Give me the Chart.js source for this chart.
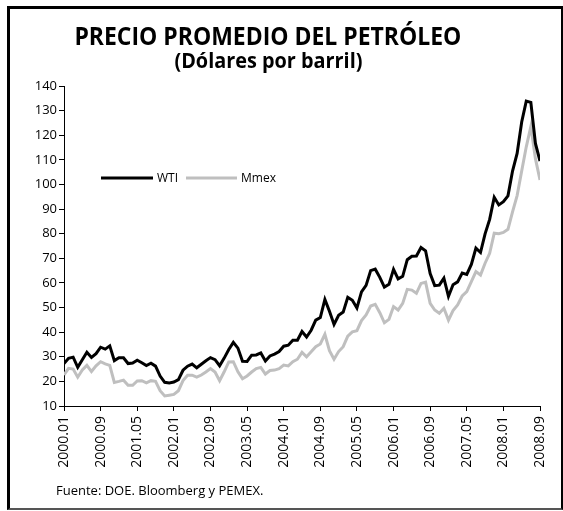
<!DOCTYPE html>
<html><head><meta charset="utf-8">
<script src="https://cdn.jsdelivr.net/npm/chart.js@4.4.1/dist/chart.umd.min.js"></script>
<style>
html,body{margin:0;padding:0;background:#fff;}
#wrap{position:relative;width:563px;height:511px;overflow:hidden;}
#frame{position:absolute;left:7px;top:6px;width:556px;height:504px;box-sizing:border-box;border-top:3px solid #000;border-left:3px solid #000;border-right:2px solid #000;border-bottom:2px solid #555;}
.ttl{position:absolute;left:0;width:536px;text-align:center;font-family:'Open Sans',sans-serif;font-weight:700;color:#000;white-space:nowrap;}
.ttl span{display:inline-block;transform-origin:50% 50%;}
#t1{top:23px;font-size:25.5px;line-height:25.5px;}
#t2{top:50px;font-size:21px;line-height:21px;}
#src{position:absolute;left:56px;top:484px;font:13px 'Open Sans',sans-serif;line-height:13px;color:#000;}
canvas{position:absolute;left:0;top:0;}
</style></head>
<body><div id="wrap">
<div id="frame"></div>
<canvas id="c" width="563" height="511"></canvas>
<div class="ttl" id="t1"><span>PRECIO PROMEDIO DEL PETRÓLEO</span></div>
<div class="ttl" id="t2"><span>(Dólares por barril)</span></div>
<div id="src"><span>Fuente: DOE. Bloomberg y PEMEX.</span></div>
</div>
<script>
const categories = [
'2000.01','2000.02','2000.03','2000.04','2000.05','2000.06','2000.07','2000.08','2000.09','2000.10','2000.11','2000.12',
'2001.01','2001.02','2001.03','2001.04','2001.05','2001.06','2001.07','2001.08','2001.09','2001.10','2001.11','2001.12',
'2002.01','2002.02','2002.03','2002.04','2002.05','2002.06','2002.07','2002.08','2002.09','2002.10','2002.11','2002.12',
'2003.01','2003.02','2003.03','2003.04','2003.05','2003.06','2003.07','2003.08','2003.09','2003.10','2003.11','2003.12',
'2004.01','2004.02','2004.03','2004.04','2004.05','2004.06','2004.07','2004.08','2004.09','2004.10','2004.11','2004.12',
'2005.01','2005.02','2005.03','2005.04','2005.05','2005.06','2005.07','2005.08','2005.09','2005.10','2005.11','2005.12',
'2006.01','2006.02','2006.03','2006.04','2006.05','2006.06','2006.07','2006.08','2006.09','2006.10','2006.11','2006.12',
'2007.01','2007.02','2007.03','2007.04','2007.05','2007.06','2007.07','2007.08','2007.09','2007.10','2007.11','2007.12',
'2008.01','2008.02','2008.03','2008.04','2008.05','2008.06','2008.07','2008.08','2008.09'
];
const wti = [
27.26,29.37,29.84,25.72,28.79,31.82,29.70,31.26,33.88,33.11,34.42,28.44,
29.59,29.61,27.25,27.49,28.63,27.60,26.43,27.37,26.20,22.17,19.64,19.39,
19.72,20.72,24.53,26.18,27.04,25.52,26.97,28.39,29.66,28.84,26.35,29.46,
32.95,35.83,33.51,28.17,28.11,30.66,30.76,31.57,28.31,30.34,31.11,32.13,
34.31,34.69,36.74,36.75,40.28,38.03,40.78,44.90,45.94,53.28,48.47,43.15,
46.84,48.15,54.19,52.98,49.83,56.35,59.00,64.99,65.59,62.26,58.32,59.41,
65.49,61.63,62.69,69.44,70.84,70.95,74.41,73.04,63.80,58.89,59.08,61.96,
54.51,59.28,60.44,63.98,63.46,67.49,74.12,72.36,79.92,85.80,94.77,91.69,
92.97,95.39,105.45,112.58,125.40,133.88,133.37,116.67,109.5
];
const mmex = [
22.6,25.3,25.0,21.7,24.6,26.5,24.0,26.3,28.0,27.1,26.5,19.6,
20.0,20.5,18.4,18.4,20.2,20.3,19.4,20.3,20.0,16.2,14.1,14.4,
14.7,16.2,20.3,22.5,22.5,21.7,22.6,23.8,25.2,23.8,20.3,23.9,
27.9,28.0,23.9,21.1,22.2,23.8,25.2,25.7,23.0,24.4,24.6,25.2,
26.6,26.3,28.0,29.0,31.8,30.0,32.0,34.1,35.2,39.1,32.5,29.0,
32.1,34.1,38.4,40.1,40.6,44.7,47.0,50.6,51.3,47.9,43.8,45.2,
50.4,49.0,51.7,57.4,57.1,55.8,59.8,60.3,51.7,49.0,47.7,49.7,
44.9,48.8,51.1,54.7,56.5,60.5,64.6,63.2,68.0,72.0,80.2,80.0,
80.5,81.8,88.9,95.5,105.5,115.3,123.5,110.5,101.8
];
const seriesNames = ['WTI','Mmex'];
const yTicks = {min:10, max:140, step:10};
const xTickEvery = 8;

// fit title widths
[['#t1 span',387],['#t2 span',188]].forEach(([sel,w])=>{
  const el=document.querySelector(sel);
  const cw=el.getBoundingClientRect().width;
  el.style.transform='scaleX('+(w/cw)+')';
});

const legendInside = {
  id:'legendInside',
  afterDatasetsDraw(chart, args, opts){
    const ctx=chart.ctx;
    ctx.save();
    chart.data.datasets.forEach((ds,i)=>{
      const it=opts.items[i];
      ctx.strokeStyle=ds.borderColor; ctx.lineWidth=ds.borderWidth;
      ctx.beginPath(); ctx.moveTo(it.x0,opts.y); ctx.lineTo(it.x1,opts.y); ctx.stroke();
      ctx.fillStyle='#000'; ctx.font=opts.font; ctx.textBaseline='middle'; ctx.textAlign='left';
      ctx.fillText(ds.label, it.x1+4, opts.y+1);
    });
    ctx.restore();
  }
};

const toPts = arr => arr.map((v,i)=>({x:i,y:v}));

new Chart(document.getElementById('c'),{
  type:'line',
  data:{datasets:[
    {label:seriesNames[0],data:toPts(wti),borderColor:'#000000',borderWidth:3,pointRadius:0,tension:0,fill:false},
    {label:seriesNames[1],data:toPts(mmex),borderColor:'#bfbfbf',borderWidth:3,pointRadius:0,tension:0,fill:false}
  ]},
  options:{
    responsive:false, animation:false, devicePixelRatio:1,
    layout:{padding:{left:24,right:23,top:86,bottom:0}},
    plugins:{
      legend:{display:false}, tooltip:{enabled:false}, title:{display:false},
      legendInside:{y:178,font:"12px 'Open Sans'",items:[{x0:101,x1:153},{x0:186,x1:237}]}
    },
    scales:{
      x:{type:'linear',min:0,max:categories.length-1,
        afterFit(s){s.height=105;},
        afterBuildTicks(s){s.ticks=[];for(let i=0;i<categories.length;i+=xTickEvery)s.ticks.push({value:i});},
        ticks:{stepSize:xTickEvery,autoSkip:false,maxRotation:90,minRotation:90,padding:5,color:'#000',
          font:{family:'Open Sans',size:14},callback:v=>categories[v]},
        grid:{drawOnChartArea:false,drawTicks:true,tickLength:5,tickColor:'#000',color:'#000'},
        border:{display:true,color:'#000',width:1}},
      y:{min:yTicks.min,max:yTicks.max,
        afterFit(s){s.width=40;},
        ticks:{stepSize:yTicks.step,padding:2,color:'#000',font:{family:'Open Sans',size:13}},
        grid:{drawOnChartArea:false,drawTicks:true,tickLength:5,tickColor:'#000',color:'#000'},
        border:{display:true,color:'#000',width:1}}
    }
  },
  plugins:[legendInside]
});
</script>
</body></html>
